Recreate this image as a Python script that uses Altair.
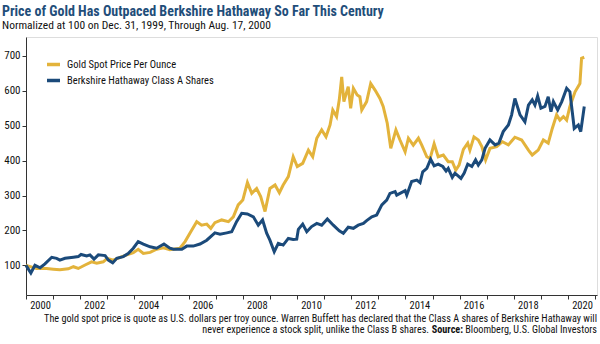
import altair as alt
import pandas as pd

GOLD_NAME = "Gold Spot Price Per Ounce"
BRK_NAME = "Berkshire Hathaway Class A Shares"

gold_years = [2000.00, 2000.39, 2000.76, 2001.01, 2001.25, 2001.56, 2001.75, 2001.93, 2002.18, 2002.42,
              2002.61, 2002.85, 2003.00, 2003.22, 2003.47, 2003.72, 2003.96, 2004.14, 2004.33, 2004.58,
              2004.82, 2005.07, 2005.31, 2005.68, 2005.87, 2006.08, 2006.30, 2006.48, 2006.67, 2006.82,
              2006.97, 2007.22, 2007.47, 2007.65, 2007.83, 2008.00, 2008.17, 2008.33, 2008.51, 2008.66,
              2008.82, 2009.00, 2009.19, 2009.35, 2009.49, 2009.68, 2009.86, 2010.01, 2010.21, 2010.42,
              2010.58, 2010.73, 2010.91, 2011.07, 2011.22, 2011.32, 2011.46, 2011.56, 2011.65, 2011.73,
              2011.89, 2011.98, 2012.08, 2012.22, 2012.32, 2012.39, 2012.57, 2012.72, 2012.88, 2013.06,
              2013.18, 2013.33, 2013.46, 2013.65, 2013.80, 2013.99, 2014.11, 2014.29, 2014.48, 2014.60,
              2014.79, 2014.91, 2015.06, 2015.21, 2015.40, 2015.58, 2015.73, 2015.86, 2015.98, 2016.14,
              2016.30, 2016.38, 2016.53, 2016.69, 2016.82, 2016.96, 2017.12, 2017.37, 2017.58, 2017.80,
              2018.04, 2018.29, 2018.54, 2018.68, 2018.90, 2019.09, 2019.27, 2019.42, 2019.58, 2019.70,
              2019.83, 2019.95, 2020.07, 2020.26, 2020.44, 2020.50, 2020.60]
gold_values = [100, 91, 91, 89, 87, 90, 96, 91, 101, 110,
               106, 110, 120, 115, 123, 130, 136, 146, 134, 137,
               146, 150, 145, 149, 168, 196, 225, 215, 218, 206,
               222, 230, 225, 239, 273, 287, 337, 306, 320, 297,
               254, 320, 330, 308, 330, 354, 411, 383, 392, 430,
               411, 464, 488, 468, 502, 545, 526, 574, 640, 569,
               612, 550, 607, 588, 583, 545, 569, 621, 602, 578,
               555, 507, 435, 488, 459, 425, 464, 444, 464, 445,
               411, 406, 448, 411, 416, 397, 397, 373, 387, 432,
               450, 430, 468, 459, 440, 402, 435, 440, 454, 445,
               467, 459, 430, 416, 430, 459, 450, 492, 531, 516,
               526, 516, 555, 597, 621, 693, 696]

brk_years = [2000.00, 2000.18, 2000.33, 2000.52, 2000.70, 2000.95, 2001.13, 2001.25, 2001.44, 2001.75,
             2001.93, 2002.03, 2002.24, 2002.36, 2002.51, 2002.67, 2002.92, 2003.04, 2003.20, 2003.35,
             2003.59, 2003.77, 2003.96, 2004.14, 2004.33, 2004.58, 2004.82, 2005.09, 2005.31, 2005.44,
             2005.75, 2005.93, 2006.17, 2006.42, 2006.67, 2006.97, 2007.16, 2007.41, 2007.59, 2007.77,
             2007.96, 2008.17, 2008.39, 2008.57, 2008.73, 2008.88, 2009.00, 2009.16, 2009.31, 2009.49,
             2009.68, 2009.86, 2009.99, 2010.05, 2010.21, 2010.36, 2010.54, 2010.73, 2010.91, 2011.12,
             2011.34, 2011.56, 2011.71, 2011.89, 2012.08, 2012.26, 2012.45, 2012.57, 2012.76, 2012.94,
             2013.13, 2013.31, 2013.43, 2013.62, 2013.68, 2013.99, 2014.05, 2014.23, 2014.42, 2014.54,
             2014.64, 2014.79, 2014.93, 2015.06, 2015.21, 2015.38, 2015.50, 2015.58, 2015.73, 2015.83,
             2016.05, 2016.17, 2016.30, 2016.45, 2016.59, 2016.69, 2016.82, 2016.94, 2017.12, 2017.31,
             2017.45, 2017.61, 2017.80, 2017.92, 2018.04, 2018.23, 2018.41, 2018.54, 2018.68, 2018.78,
             2018.88, 2019.00, 2019.15, 2019.27, 2019.37, 2019.46, 2019.62, 2019.77, 2019.95, 2020.07,
             2020.23, 2020.38, 2020.47, 2020.60]
brk_values = [100, 78, 100, 93, 104, 123, 120, 115, 120, 123,
              125, 131, 127, 130, 118, 130, 128, 115, 107, 120,
              125, 134, 149, 168, 161, 153, 149, 161, 149, 146,
              146, 155, 155, 161, 172, 193, 189, 193, 196, 225,
              249, 247, 239, 215, 230, 192, 172, 139, 163, 158,
              177, 174, 175, 203, 218, 196, 211, 220, 215, 233,
              215, 199, 192, 209, 206, 215, 220, 228, 239, 244,
              273, 287, 306, 311, 301, 314, 301, 340, 344, 337,
              368, 378, 404, 385, 390, 383, 370, 378, 352, 364,
              349, 364, 390, 383, 402, 387, 402, 435, 459, 445,
              450, 483, 502, 531, 578, 531, 511, 559, 574, 559,
              585, 550, 555, 583, 540, 569, 545, 569, 607, 597,
              492, 502, 483, 555]

y_ticks = [100, 200, 300, 400, 500, 600, 700]
x_ticks = list(range(2000, 2022))

TITLE = "Price of Gold Has Outpaced Berkshire Hathaway So Far This Century"
SUBTITLE = "Normalized at 100 on Dec. 31, 1999, Through Aug. 17, 2000"
NOTE1 = ("The gold spot price is quote as U.S. dollars per troy ounce. Warren Buffett has declared "
         "that the Class A shares of Berkshire Hathaway will")
NOTE2A = "never experience a stock split, unlike the Class B shares."
NOTE2B = "Source:"
NOTE2C = "Bloomberg, U.S. Global Investors"

GOLD_C = "#E3B33B"
BRK_C = "#1B4A7A"
FONT = "Roboto Condensed, Roboto, sans-serif"

gold_df = pd.DataFrame({"year": gold_years, "value": gold_values, "series": GOLD_NAME})
brk_df = pd.DataFrame({"year": brk_years, "value": brk_values, "series": BRK_NAME})

color_scale = alt.Scale(domain=[GOLD_NAME, BRK_NAME], range=[GOLD_C, BRK_C])
x_enc = alt.X("year:Q",
              scale=alt.Scale(domain=[2000.0, 2021.07], nice=False, zero=False),
              axis=alt.Axis(values=x_ticks, title=None, grid=False, tickSize=4,
                            labelExpr="datum.value % 2 == 0 && datum.value < 2021 ? format(datum.value, 'd') : ''",
                            labelOffset=14, labelFlush=False, labelOverlap=False, labelPadding=1,
                            labelFont=FONT, labelFontSize=10.5, labelColor="#111",
                            domainColor="#333", tickColor="#333"))
y_enc = alt.Y("value:Q",
              scale=alt.Scale(domain=[15, 754], nice=False, zero=False),
              axis=alt.Axis(values=y_ticks, title=None, grid=False, tickSize=4,
                            labelFont=FONT, labelFontSize=11, labelColor="#111", labelPadding=2,
                            domainColor="#333", tickColor="#333"))
color_enc = alt.Color("series:N", scale=color_scale,
                      legend=alt.Legend(orient="none", legendX=19, legendY=19, title=None,
                                        symbolType="stroke", symbolStrokeWidth=3.5, symbolSize=170,
                                        labelFont=FONT, labelFontSize=10.5, labelColor="#111",
                                        rowPadding=0, padding=0, labelOffset=5))

gold_line = alt.Chart(gold_df).mark_line(strokeWidth=3, interpolate="linear").encode(
    x=x_enc, y=y_enc, color=color_enc)
brk_line = alt.Chart(brk_df).mark_line(strokeWidth=3, interpolate="linear").encode(
    x=x_enc, y=y_enc, color=color_enc)

def label(text, x, y, size, weight="normal", color="#111", align="left"):
    return alt.Chart(pd.DataFrame({"t": [text]})).mark_text(
        font=FONT, fontSize=size, fontWeight=weight, color=color, align=align,
        baseline="alphabetic").encode(text="t:N", x=alt.value(x), y=alt.value(y))

title = label(TITLE, -24, -21, 14, weight="bold", color="#1F4E7A")
subtitle = label(SUBTITLE, -24, -8, 11.5)
note1 = label(NOTE1, 571, 285, 10.2, align="right")
note2a = label(NOTE2A, 403, 296, 10.2, align="right")
note2b = label(NOTE2B, 437, 296, 10.2, weight="bold", align="right")
note2c = label(NOTE2C, 571, 296, 10.2, align="right")

chart = alt.layer(gold_line, brk_line, title, subtitle, note1, note2a, note2b, note2c).properties(
    width=571, height=258,
    padding={"left": 26, "top": 37, "right": 3, "bottom": 49},
    autosize=alt.AutoSizeParams(type="none"),
).configure_view(stroke=None).configure(background="white")

chart.save("out.html", embed_options={"renderer": "svg", "actions": False})
